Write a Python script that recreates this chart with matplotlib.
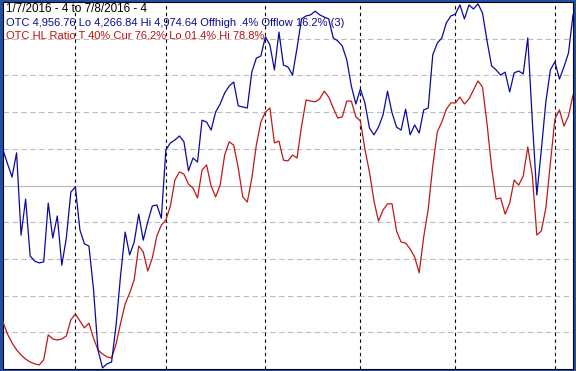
import matplotlib
matplotlib.use("Agg")
import matplotlib.pyplot as plt
import numpy as np

# Trading-day index (1/7/2016 .. 7/8/2016)
n_days = 127
month_start_idx = [16, 36, 58, 79, 100, 122]  # Feb1, Mar1, Apr1, May2, Jun1, Jul1

# OTC (Nasdaq) position within Lo-Hi range, percent
otc_pct = [59.7, 55.9, 52.3, 58.9, 36.5, 46.3, 30.8, 29.4, 28.9, 29.2,
           45.2, 35.7, 41.7, 28.3, 35.7, 48.2, 49.6, 37.9, 34.1, 33.5,
           21.8, 5.2, 0.3, 1.4, 1.9, 12.0, 25.6, 37.3, 31.1, 34.6,
           42.2, 35.1, 40.1, 44.4, 44.7, 41.1, 59.7, 61.6, 62.4, 63.5,
           61.9, 54.0, 57.5, 56.4, 67.8, 67.3, 65.1, 70.0, 72.2, 75.2,
           77.1, 78.2, 71.7, 71.4, 71.1, 80.9, 84.7, 85.3, 90.5, 88.3,
           81.5, 91.8, 82.8, 82.3, 80.1, 87.5, 95.4, 96.2, 96.5, 97.5,
           96.5, 95.9, 95.4, 90.2, 89.4, 88.0, 84.2, 77.1, 72.2, 76.3,
           72.5, 65.7, 63.8, 65.9, 69.2, 75.7, 69.8, 65.9, 65.1, 70.8,
           63.8, 66.5, 64.3, 70.6, 71.1, 85.6, 88.8, 90.2, 94.3, 96.2,
           96.7, 99.2, 95.4, 99.2, 98.1, 99.5, 97.0, 89.4, 82.6, 81.5,
           80.1, 80.9, 75.5, 80.7, 81.2, 80.4, 90.2, 67.8, 47.4, 59.7,
           72.8, 81.5, 83.7, 79.0, 82.3, 86.1, 96.5]

# OTC HL Ratio, percent
hl_ratio = [12.8, 9.5, 7.1, 5.2, 3.8, 2.7, 1.9, 1.4, 1.1, 2.5,
            9.3, 8.2, 7.9, 8.2, 9.0, 13.4, 15.0, 13.1, 11.2, 12.5,
            8.4, 5.2, 4.1, 3.3, 3.0, 6.8, 12.5, 17.7, 20.7, 24.3,
            33.5, 31.9, 26.7, 30.2, 36.2, 39.2, 40.6, 44.4, 51.5, 53.7,
            53.1, 50.4, 49.3, 46.6, 54.2, 55.6, 49.9, 46.9, 50.1, 58.3,
            61.9, 61.0, 54.8, 46.9, 45.5, 52.0, 61.0, 67.3, 70.0, 71.1,
            61.6, 62.1, 56.9, 56.7, 58.3, 57.5, 66.2, 73.3, 73.0, 72.8,
            73.6, 75.7, 74.1, 71.1, 68.4, 68.7, 73.0, 73.0, 68.7, 67.6,
            59.9, 53.7, 45.8, 40.3, 43.3, 45.0, 45.0, 37.6, 34.6, 34.3,
            32.7, 30.5, 26.2, 36.0, 43.6, 55.3, 64.6, 67.3, 70.8, 72.5,
            72.5, 74.1, 72.2, 73.6, 76.0, 78.5, 76.8, 66.8, 55.0, 46.3,
            46.6, 42.2, 45.2, 51.5, 50.1, 52.6, 60.5, 52.9, 36.5, 37.6,
            43.9, 56.1, 68.1, 70.6, 66.2, 68.9, 74.7]

grid_levels = [10, 20, 30, 40, 60, 70, 80, 90]
mid_level = 50

title_line = "1/7/2016 - 4 to 7/8/2016 - 4"
otc_line = "OTC 4,956.76 Lo 4,266.84 Hi 4,974.64 Offhigh .4% Offlow 16.2% (3)"
hl_line = "OTC HL Ratio T 40% Cur 76.2% Lo 01.4% Hi 78.8%"

W, H = 576, 371
fig = plt.figure(figsize=(W / 100, H / 100), dpi=100)
fig.patch.set_facecolor("#1f4fa8")
ax = fig.add_axes([3 / W, 2 / H, 570 / W, 367 / H])
ax.set_facecolor("white")

x = np.arange(n_days)
ax.set_xlim(0, n_days - 1)
ax.set_ylim(0, 100)

for g in grid_levels:
    ax.axhline(g, color="#bcbcbc", lw=0.8, ls=(0, (5, 3)), zorder=1)
ax.axhline(mid_level, color="#bcbcbc", lw=0.9, zorder=1)
for m in month_start_idx:
    ax.axvline(m, color="black", lw=0.8, ls=(0, (3, 3)), zorder=2)

ax.plot(x, otc_pct, color="#0a0aa0", lw=0.9, zorder=4)
ax.plot(x, hl_ratio, color="#c01818", lw=0.9, zorder=3)

ax.set_xticks([])
ax.set_yticks([])
for s in ax.spines.values():
    s.set_color("black")
    s.set_linewidth(0.8)

fam = ["Liberation Sans", "DejaVu Sans"]
ax.text(3 / 570, 1 - 10 / 367, title_line, transform=ax.transAxes, family=fam,
        color="black", fontsize=8.4, va="baseline", zorder=1.5)
ax.text(3 / 570, 1 - 24 / 367, otc_line, transform=ax.transAxes, family=fam,
        color="#0a0a90", fontsize=8.0, va="baseline", zorder=1.5)
ax.text(3 / 570, 1 - 37 / 367, hl_line, transform=ax.transAxes, family=fam,
        color="#c01010", fontsize=8.0, va="baseline", zorder=1.5)

fig.savefig("out.png", dpi=100, facecolor=fig.get_facecolor())
